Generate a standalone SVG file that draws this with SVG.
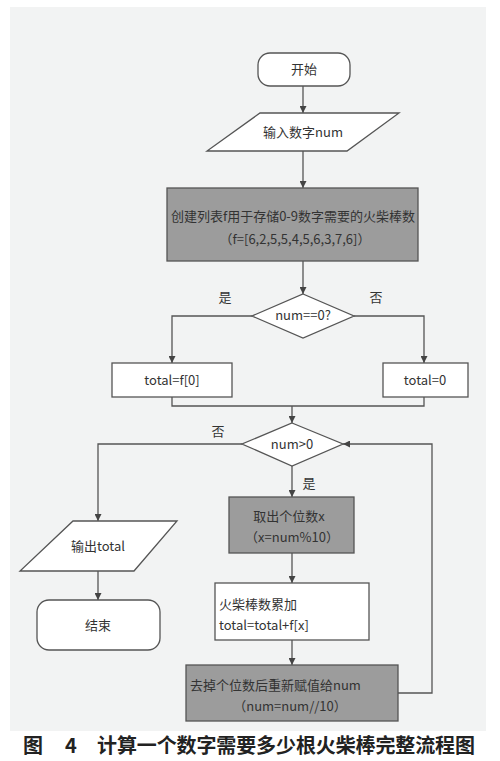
<svg xmlns="http://www.w3.org/2000/svg" width="500" height="761" viewBox="0 0 500 761">
<style>
.sh{stroke:#555;stroke-width:1.3;fill:#fff}
.gr{fill:#9c9c9c}
.t{font-family:"Noto Sans CJK SC","Noto Sans",sans-serif;font-size:13px;fill:#333}
.c{text-anchor:middle}
.ln{fill:none;stroke:#555;stroke-width:1.3;marker-end:url(#ah)}
.nl{fill:none;stroke:#555;stroke-width:1.3}
.cap{font-family:"Noto Sans CJK SC",sans-serif;font-size:20px;font-weight:bold;fill:#222}
</style>
<defs>
<marker id="ah" viewBox="0 0 10 10" refX="10" refY="5" markerWidth="7" markerHeight="7" markerUnits="userSpaceOnUse" orient="auto">
<path d="M0,0 L10,5 L0,10 z" fill="#444"/>
</marker>
</defs>
<rect x="0" y="0" width="500" height="761" fill="#fff"/>
<rect x="10" y="7" width="476" height="724" fill="#f2f3f3"/>
<g id="connectors">
<path class="ln" d="M303,86 V113"/>
<path class="ln" d="M303,151 V188"/>
<path class="ln" d="M303,261 V294"/>
<path class="ln" d="M252,316 H172 V363"/>
<path class="ln" d="M354,316 H424 V363"/>
<path class="nl" d="M172,397 V406 H424 V397"/>
<path class="ln" d="M292,406 V423"/>
<path class="ln" d="M292,466 V497"/>
<path class="ln" d="M292,553 V583"/>
<path class="ln" d="M292,640 V665"/>
<path class="ln" d="M398,693 H432 V444 H343"/>
<path class="ln" d="M242,444 H98 V521"/>
<path class="ln" d="M98,571 V600"/>
</g>
<g id="labels">
<text class="t c" x="225" y="302">是</text>
<text class="t c" x="376" y="302">否</text>
<text class="t c" x="218" y="436">否</text>
<text class="t c" x="309" y="488">是</text>
</g>
<g id="start">
<rect class="sh" x="258" y="53" width="92" height="33" rx="12"/>
<text class="t c" x="304" y="74">开始</text>
</g>
<g id="input">
<polygon class="sh" points="260,113 399,113 347,151 207,151"/>
<text class="t c" x="303" y="137">输入数字num</text>
</g>
<g id="create">
<rect class="sh gr" x="167" y="188" width="251" height="73"/>
<text class="t c" x="293" y="221">创建列表f用于存储0-9数字需要的火柴棒数</text>
<text class="t c" x="295" y="244">（f=[6,2,5,5,4,5,6,3,7,6]）</text>
</g>
<g id="check0">
<polygon class="sh" points="303,294 354,316 303,338 252,316"/>
<text class="t c" x="303" y="320">num==0?</text>
</g>
<g id="totalf0">
<rect class="sh" x="112" y="363" width="120" height="34"/>
<text class="t c" x="172" y="385">total=f[0]</text>
</g>
<g id="total0">
<rect class="sh" x="383" y="363" width="85" height="34"/>
<text class="t c" x="425" y="385">total=0</text>
</g>
<g id="loopcheck">
<polygon class="sh" points="292,423 343,444 292,466 242,444"/>
<text class="t c" x="292" y="449">num&gt;0</text>
</g>
<g id="digit">
<rect class="sh gr" x="229" y="497" width="125" height="56"/>
<text class="t c" x="289" y="521">取出个位数x</text>
<text class="t c" x="292" y="542">（x=num%10）</text>
</g>
<g id="accum">
<rect class="sh" x="215" y="583" width="154" height="57"/>
<text class="t" x="219" y="609">火柴棒数累加</text>
<text class="t" x="219" y="630">total=total+f[x]</text>
</g>
<g id="reassign">
<rect class="sh gr" x="186" y="665" width="212" height="56"/>
<text class="t" x="190" y="690">去掉个位数后重新赋值给num</text>
<text class="t c" x="290" y="711">（num=num//10）</text>
</g>
<g id="output">
<polygon class="sh" points="73,521 177,521 134,571 20,571"/>
<text class="t c" x="98" y="551">输出total</text>
</g>
<g id="end">
<rect class="sh" x="37" y="600" width="123" height="50" rx="12"/>
<text class="t c" x="98" y="630">结束</text>
</g>
<text class="cap" y="753"><tspan x="23">图</tspan><tspan x="65">4</tspan><tspan x="97" textLength="378" lengthAdjust="spacing">计算一个数字需要多少根火柴棒完整流程图</tspan></text>
</svg>
